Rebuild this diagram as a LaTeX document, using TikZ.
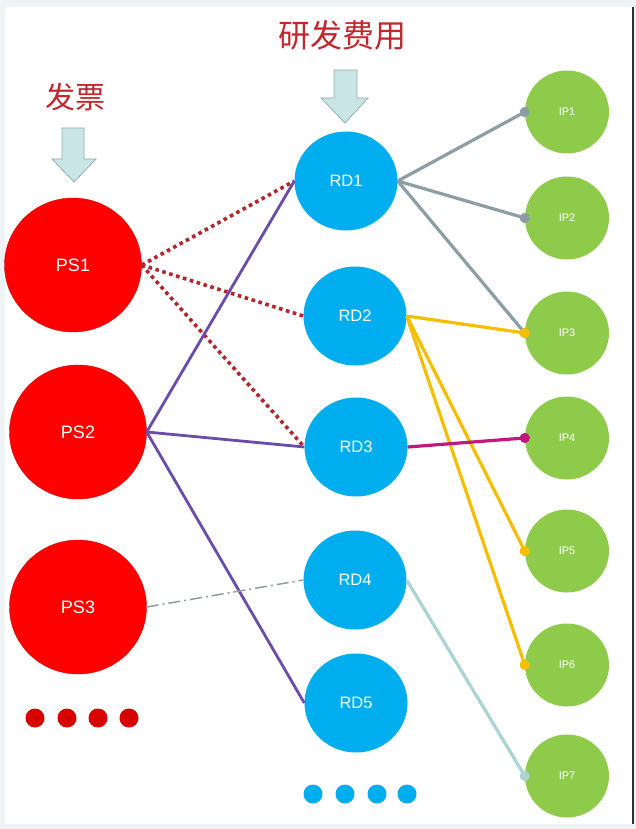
\documentclass[tikz,border=0pt]{standalone}
\usepackage{fontspec}
\setmainfont{Liberation Sans}
\newfontfamily\cjk{Noto Sans CJK SC}
\usetikzlibrary{shapes.geometric,arrows.meta}
\definecolor{pscol}{RGB}{255,0,0}
\definecolor{rdcol}{RGB}{0,174,239}
\definecolor{ipcol}{RGB}{143,203,74}
\definecolor{tcol}{RGB}{193,39,45}
\definecolor{arrfill}{RGB}{201,229,229}
\definecolor{arredge}{RGB}{143,174,181}
\definecolor{gcol}{RGB}{140,158,163}
\definecolor{ycol}{RGB}{246,190,0}
\definecolor{mcol}{RGB}{194,23,126}
\definecolor{lcol}{RGB}{169,212,210}
\definecolor{pcol}{RGB}{106,76,171}
\definecolor{dcol}{RGB}{179,38,43}
\definecolor{bgcol}{RGB}{238,243,246}
\tikzset{every picture/.style={x=1pt,y=-1pt}}
\tikzset{ps/.style={ellipse,fill=pscol,draw=pscol!85!black,minimum width=137,minimum height=134,text=white,font=\fontsize{18}{18}\selectfont}}
\tikzset{rd/.style={ellipse,fill=rdcol,minimum width=103,minimum height=99,text=white,font=\fontsize{16.5}{16.5}\selectfont}}
\tikzset{ip/.style={ellipse,fill=ipcol,minimum width=84,minimum height=83,text=white,font=\fontsize{11}{11}\selectfont}}
\tikzset{downarrow/.style={fill=arrfill,draw=arredge,line width=.8pt,line join=miter}}
\tikzset{title/.style={text=tcol,font=\cjk\fontsize{30}{30}\selectfont}}
\tikzset{dot/.style={circle,inner sep=0pt,minimum size=19}}
\tikzset{link/.style={line width=3.2pt}}
\tikzset{tip/.style={-{Circle[length=10pt]},shorten >=-5pt}}

\begin{document}
\begin{tikzpicture}
\fill [bgcol] (0,0) rectangle (636,829);
\fill [white] (5,7) rectangle (632,824);
\draw [black!80,line width=2pt] (633,7) -- (633,824);

\node [title] (tinv) at (75,97) {发票};
\node [title,font=\cjk\fontsize{32}{32}\selectfont] (trd) at (342,35) {研发费用};
\draw [downarrow] (62,128) -- (84,128) -- (84,159) -- (96,159) -- (74,182) -- (52,159) -- (62,159) -- cycle;
\draw [downarrow] (334,70) -- (357,70) -- (357,98) -- (368,98) -- (345,123) -- (321,98) -- (334,98) -- cycle;

\node [ps] (ps1) at (73,265) {PS1};
\node [ps] (ps2) at (78,432) {PS2};
\node [ps] (ps3) at (78,607) {PS3};

\node [rd] (rd1) at (346,181) {RD1};
\node [rd] (rd2) at (355,316) {RD2};
\node [rd] (rd3) at (356,447) {RD3};
\node [rd] (rd4) at (355,580) {RD4};
\node [rd] (rd5) at (356,703) {RD5};

\node [ip] (ip1) at (567,112) {IP1};
\node [ip] (ip2) at (567,218) {IP2};
\node [ip] (ip3) at (567,333) {IP3};
\node [ip] (ip4) at (567,438) {IP4};
\node [ip] (ip5) at (567,551) {IP5};
\node [ip] (ip6) at (567,665) {IP6};
\node [ip] (ip7) at (567,776) {IP7};

\node [dot,fill=pscol!85!black] (pdot1) at (35,718) {};
\node [dot,fill=pscol!85!black] (pdot2) at (67,718) {};
\node [dot,fill=pscol!85!black] (pdot3) at (98,718) {};
\node [dot,fill=pscol!85!black] (pdot4) at (129,718) {};
\node [dot,fill=rdcol] (rdot1) at (313,794) {};
\node [dot,fill=rdcol] (rdot2) at (345,794) {};
\node [dot,fill=rdcol] (rdot3) at (377,794) {};
\node [dot,fill=rdcol] (rdot4) at (407,794) {};

\draw [dcol,link,line width=3.6pt,dash pattern=on 3.6pt off 3.6pt] (ps1.east) -- (rd1.west);
\draw [dcol,link,line width=3.6pt,dash pattern=on 3.6pt off 3.6pt] (ps1.east) -- (rd2.west);
\draw [dcol,link,line width=3.6pt,dash pattern=on 3.6pt off 3.6pt] (ps1.east) -- (rd3.west);

\draw [pcol,link,line width=2.8pt] (ps2.east) -- (rd1.west);
\draw [pcol,link,line width=2.8pt] (ps2.east) -- (rd3.west);
\draw [pcol,link,line width=2.8pt] (ps2.east) -- (rd5.west);

\draw [gcol,line width=1.5pt,dash pattern=on 12pt off 4pt on 2pt off 4pt] (ps3.east) -- (rd4.west);

\draw [gcol,link,tip] (rd1.east) -- (ip1.west);
\draw [gcol,link,tip] (rd1.east) -- (ip2.west);
\draw [gcol,link,tip] (rd1.east) -- (ip3.west);

\draw [ycol,link,tip] (rd2.east) -- (ip3.west);
\draw [ycol,link,tip] (rd2.east) -- (ip5.west);
\draw [ycol,link,tip] (rd2.east) -- (ip6.west);

\draw [mcol,link,tip] (rd3.east) -- (ip4.west);

\draw [lcol,link,tip] (rd4.east) -- (ip7.west);
\end{tikzpicture}
\end{document}
